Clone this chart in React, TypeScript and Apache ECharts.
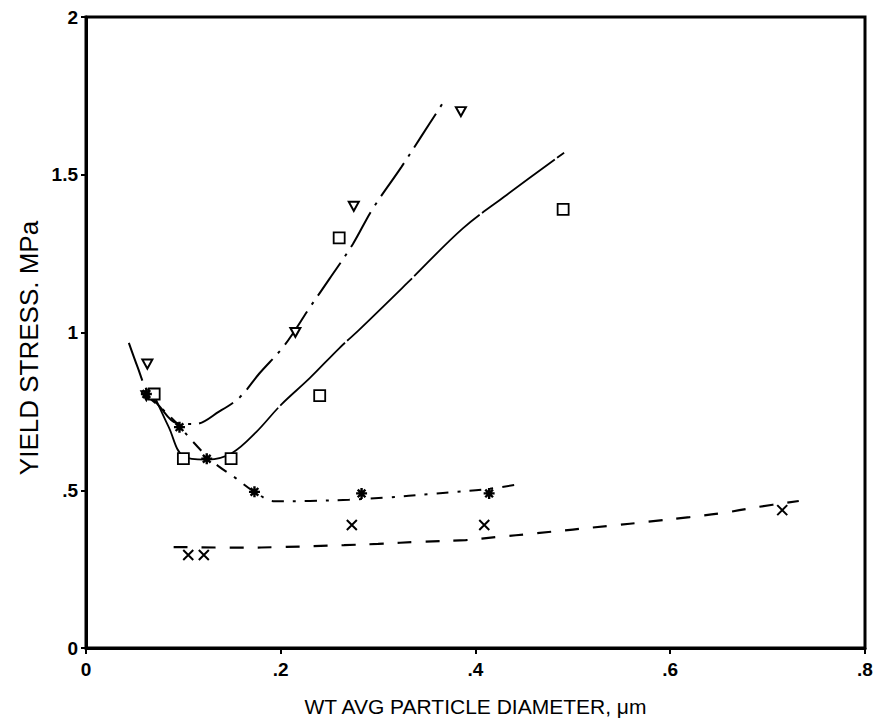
import React, { useEffect, useRef } from "react";
import * as echarts from "echarts";

// Measured points
const trianglePts: [number, number][] = [
  [0.063, 0.9], [0.062, 0.8], [0.215, 1.0], [0.275, 1.4], [0.385, 1.7],
];
const squarePts: [number, number][] = [
  [0.07, 0.805], [0.1, 0.6], [0.149, 0.6], [0.24, 0.8], [0.26, 1.3], [0.49, 1.39],
];
const starPts: [number, number][] = [
  [0.062, 0.805], [0.096, 0.7], [0.124, 0.6], [0.173, 0.495], [0.283, 0.49], [0.414, 0.49],
];
const crossPts: [number, number][] = [
  [0.105, 0.295], [0.121, 0.295], [0.273, 0.39], [0.409, 0.39], [0.715, 0.437],
];

// Fitted curves
const triangleCurve: [number, number][] = [
  [0.044, 0.967], [0.053, 0.89], [0.062, 0.82], [0.076, 0.764], [0.093, 0.713],
  [0.112, 0.71], [0.137, 0.75], [0.158, 0.795], [0.178, 0.87], [0.204, 0.96],
  [0.23, 1.08], [0.25, 1.17], [0.274, 1.28], [0.294, 1.39], [0.324, 1.525],
  [0.344, 1.62], [0.367, 1.73],
];
const squareCurve: [number, number][] = [
  [0.07, 0.8], [0.085, 0.7], [0.1, 0.608], [0.125, 0.597], [0.15, 0.618],
  [0.175, 0.685], [0.2, 0.77], [0.23, 0.856], [0.26, 0.95], [0.281, 1.01],
  [0.33, 1.157], [0.387, 1.33], [0.432, 1.436], [0.491, 1.57],
];
const starCurve: [number, number][] = [
  [0.062, 0.8], [0.076, 0.764], [0.093, 0.713], [0.108, 0.66], [0.125, 0.605],
  [0.137, 0.574], [0.153, 0.54], [0.173, 0.495], [0.194, 0.465], [0.23, 0.466],
  [0.27, 0.47], [0.31, 0.477], [0.353, 0.488], [0.38, 0.495], [0.41, 0.503],
  [0.447, 0.52],
];
const crossCurve: [number, number][] = [
  [0.09, 0.32], [0.16, 0.318], [0.2, 0.32], [0.265, 0.326], [0.3, 0.33],
  [0.345, 0.337], [0.39, 0.342], [0.423, 0.352], [0.46, 0.363], [0.54, 0.388],
  [0.577, 0.4], [0.62, 0.415], [0.654, 0.428], [0.688, 0.446], [0.732, 0.466],
];

const xMin = 0, xMax = 0.8, xStep = 0.2;
const yMin = 0, yMax = 2, yStep = 0.5;
const xTitle = "WT AVG PARTICLE DIAMETER, μm";
const yTitle = "YIELD STRESS. MPa";

const FONT = "Liberation Sans";
const fmt = (v: number) => {
  const r = Number(v.toFixed(2));
  if (r === 0) return "0";
  return String(r).replace(/^0\./, ".");
};

const TRI = "path://M0,0 L10,0 L5,9 Z";
const STAR = "path://M0,5 L10,5 M5,0 L5,10 M1.5,1.5 L8.5,8.5 M8.5,1.5 L1.5,8.5";
const CROSS = "path://M0,0 L10,10 M10,0 L0,10";

export default function App() {
  const ref = useRef<HTMLDivElement>(null);
  useEffect(() => {
    if (!ref.current) return;
    const chart = echarts.init(ref.current, undefined, { renderer: "svg" });
    const lineBase = (data: [number, number][], dash: number[] | string, width = 2) => ({
      type: "line",
      data,
      smooth: 0.35,
      showSymbol: false,
      symbol: "none",
      silent: true,
      lineStyle: { color: "#000", width, type: dash },
      z: 2,
    });
    chart.setOption({
      animation: false,
      backgroundColor: "#fff",
      grid: {
        left: 86, top: 17, width: 779, height: 631,
        show: true, borderColor: "#000", borderWidth: 3, backgroundColor: "transparent",
      },
      graphic: [
        {
          type: "text",
          x: 29, y: 348, rotation: Math.PI / 2,
          style: {
            text: yTitle, fontFamily: FONT, fontSize: 26, fill: "#000",
            textAlign: "center", textVerticalAlign: "middle",
          },
        },
      ],
      xAxis: {
        type: "value", min: xMin, max: xMax, interval: xStep,
        name: xTitle,
        nameLocation: "middle", nameGap: 48,
        nameTextStyle: { fontFamily: FONT, fontSize: 21, color: "#000" },
        axisLine: { show: true, lineStyle: { color: "#000", width: 3 } },
        axisTick: { show: true, length: 6, lineStyle: { color: "#000", width: 2 } },
        axisLabel: { formatter: fmt, fontFamily: FONT, fontWeight: "bold", fontSize: 19, color: "#000", margin: 12 },
        splitLine: { show: false },
      },
      yAxis: {
        type: "value", min: yMin, max: yMax, interval: yStep,
        axisLine: { show: true, lineStyle: { color: "#000", width: 3 } },
        axisTick: { show: true, length: 5, lineStyle: { color: "#000", width: 2 } },
        axisLabel: { formatter: fmt, fontFamily: FONT, fontWeight: "bold", fontSize: 19, color: "#000", margin: 8 },
        splitLine: { show: false },
      },
      series: [
        lineBase(triangleCurve, [40, 8, 3, 8]),
        lineBase(squareCurve, [90, 3], 1.8),
        lineBase(starCurve, [12, 9, 3, 9]),
        lineBase(crossCurve, [14, 14], 2.2),
        {
          type: "scatter", data: trianglePts, symbol: TRI, symbolSize: [10, 9],
          itemStyle: { color: "#fff", borderColor: "#000", borderWidth: 2, opacity: 1 }, z: 5,
        },
        {
          type: "scatter", data: squarePts, symbol: "rect", symbolSize: 11,
          itemStyle: { color: "#fff", borderColor: "#000", borderWidth: 1.8, opacity: 1 }, z: 5,
        },
        {
          type: "scatter", data: starPts, symbol: STAR, symbolSize: 11,
          itemStyle: { color: "none", borderColor: "#000", borderWidth: 2.4, opacity: 1 }, z: 6,
        },
        {
          type: "scatter", data: crossPts, symbol: CROSS, symbolSize: 10,
          itemStyle: { color: "none", borderColor: "#000", borderWidth: 2, opacity: 1 }, z: 6,
        },
      ],
    });
    return () => chart.dispose();
  }, []);
  return (
    <div
      ref={ref}
      style={{ position: "absolute", left: 0, top: 0, width: 876, height: 723 }}
    />
  );
}
